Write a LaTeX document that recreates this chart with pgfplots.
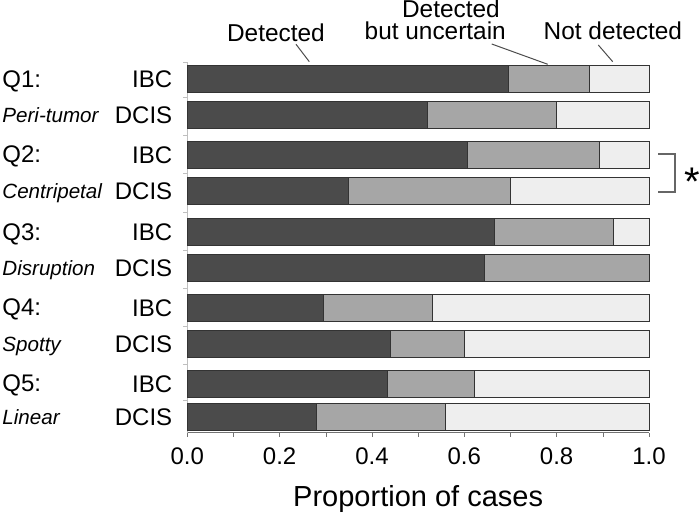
\documentclass[border=0pt]{standalone}
\usepackage{fontspec}
\setmainfont{Liberation Sans}
\usepackage{pgfplots}
\pgfplotsset{compat=1.18}

\definecolor{cdet}{HTML}{4B4B4B}
\definecolor{cunc}{HTML}{A6A6A6}
\definecolor{cnot}{HTML}{EEEEEE}
\definecolor{cedge}{HTML}{333333}

\begin{document}
\begin{tikzpicture}
% y positions are 500 minus the pixel row of each bar centre
\begin{axis}[
    scale only axis,
    width=230.85pt, height=185.35pt,
    xbar stacked,
    bar width=27,
    xmin=0, xmax=1,
    ymin=67.3, ymax=438,
    axis x line*=bottom,
    axis y line*=left,
    x axis line style={black!55},
    y axis line style={black!25},
    xtick={0,0.2,0.4,0.6,0.8,1},
    minor xtick={0.1,0.3,0.5,0.7,0.9},
    tick align=outside,
    major tick length=2pt, minor tick length=2pt,
    x tick style={black!55},
    /pgf/number format/assume math mode=true,
    xticklabel style={/pgf/number format/fixed, /pgf/number format/fixed zerofill,
        /pgf/number format/precision=1, font=\fontsize{12}{14}\selectfont, yshift=-2pt},
    ytick={420.5,384.5,345,309,267.5,232,192,156,116,82.5},
    yticklabels={IBC,DCIS,IBC,DCIS,IBC,DCIS,IBC,DCIS,IBC,DCIS},
    yticklabel style={font=\fontsize{12}{14}\selectfont, xshift=-2pt},
    minor ytick={438,402.5,364.5,327,288,249.5,212,174,136,99.5},
    major y tick style={draw=none},
    minor y tick style={black!25},
    xlabel={Proportion of cases},
    xlabel style={font=\fontsize{14.5}{17}\selectfont, at={(axis description cs:0.5,0)},
        anchor=base, yshift=-37.15pt},
    clip=false,
]
% Detected
\addplot[fill=cdet, draw=cedge, line width=0.5pt] coordinates {
    (0.695,420.5) (0.52,384.5)
    (0.607,345) (0.35,309)
    (0.666,267.5) (0.643,232)
    (0.294,192) (0.44,156)
    (0.434,116) (0.28,82.5)
};
% Detected but uncertain
\addplot[fill=cunc, draw=cedge, line width=0.5pt] coordinates {
    (0.176,420.5) (0.28,384.5)
    (0.285,345) (0.35,309)
    (0.258,267.5) (0.357,232)
    (0.236,192) (0.16,156)
    (0.189,116) (0.28,82.5)
};
% Not detected
\addplot[fill=cnot, draw=cedge, line width=0.5pt] coordinates {
    (0.129,420.5) (0.20,384.5)
    (0.108,345) (0.30,309)
    (0.076,267.5) (0,232)
    (0.47,192) (0.40,156)
    (0.377,116) (0.44,82.5)
};
\end{axis}

% annotations, in pixel units of the reference
\begin{scope}[x=0.5pt, y=-0.5pt, shift={(-93.65pt,216.35pt)}]
  \tikzset{hdr/.style={font=\fontsize{12.2}{14}\selectfont, inner sep=0pt, anchor=base west}}
  \node[hdr] at (226.7,41.5) {Detected};
  \node[hdr] at (401.7,18) {Detected};
  \node[hdr] at (364.3,39.5) {but uncertain};
  \node[hdr] at (543.3,40) {Not detected};
  \draw[black!70, line width=0.5pt] (296,44.3) -- (309.3,61.7);
  \draw[black!70, line width=0.5pt] (491.7,44) -- (547.7,64.3);
  \draw[black!70, line width=0.5pt] (598.3,45) -- (612.7,61.7);

  \tikzset{ql/.style={font=\fontsize{12}{14}\selectfont, inner sep=0pt, anchor=base west},
           qs/.style={font=\fontsize{10.3}{12}\selectfont\itshape, inner sep=0pt, anchor=base west}}
  \node[ql] at (2,87.5) {Q1:};
  \node[qs] at (2,122.9) {Peri-tumor};
  \node[ql] at (2,163) {Q2:};
  \node[qs] at (2,198.4) {Centripetal};
  \node[ql] at (2,240.5) {Q3:};
  \node[qs] at (2,275.4) {Disruption};
  \node[ql] at (2,316) {Q4:};
  \node[qs] at (2,351.4) {Spotty};
  \node[ql] at (2,392) {Q5:};
  \node[qs] at (2,424.9) {Linear};

  \draw[black!60, line width=0.6pt] (658,154) -- (675,154) -- (675,192) -- (658,192);
  \node[font=\fontsize{20}{22}\selectfont, inner sep=0pt] at (692,182) {*};

  \pgfresetboundingbox
  \useasboundingbox (0,0) rectangle (700,517);
\end{scope}
\end{tikzpicture}
\end{document}
